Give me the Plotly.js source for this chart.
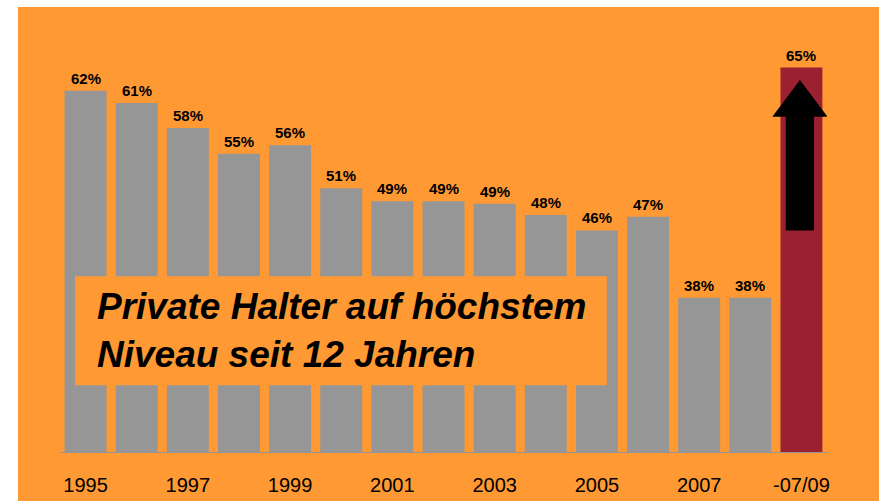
<!DOCTYPE html>
<html>
<head>
<meta charset="utf-8">
<script src="https://cdn.plot.ly/plotly-3.0.1.min.js"></script>
<style>
  html, body { margin: 0; padding: 0; background: #fff; }
  #chart { width: 879px; height: 501px; }
</style>
</head>
<body>
<div id="chart"></div>
<script>
    // Anteil privater Halter je Jahr (in %)
    const years = ['1995', '1996', '1997', '1998', '1999', '2000', '2001', '2002',
                   '2003', '2004', '2005', '2006', '2007', '2008', '-07/09'];
    const shares = [61.9, 60.5, 57.6, 54.6, 55.6, 50.6, 49.1, 49.1, 48.8, 47.5, 45.7, 47.3, 37.9, 37.9, 64.6];
    const tickYears = ['1995', '1997', '1999', '2001', '2003', '2005', '2007', '-07/09'];
    const message = 'Private Halter auf höchstem<br>Niveau seit 12 Jahren';

    const orange = '#FF9933';
    const grey = '#969696';
    const darkRed = '#9C2130';
    const lastIdx = years.length - 1;

    const barTrace = {
        x: years,
        y: shares,
        type: 'bar',
        marker: { color: years.map((_, i) => i === lastIdx ? darkRed : grey) },
        hoverinfo: 'skip'
    };

    // value labels above the bars (x as category index)
    const labels = years.map((yr, i) => ({
        x: i,
        y: shares[i],
        text: '<b>' + Math.round(shares[i]) + '%</b>',
        showarrow: false,
        yanchor: 'bottom',
        yshift: 2,
        font: { family: 'Liberation Sans, Arial, sans-serif', size: 15, color: '#000' }
    }));

    // up arrow on the last bar (in category-index units)
    const headHalf = 0.54, shaftHalf = 0.277;
    const tipY = 63.15, headY = 58.9, bottomY = 45.7;
    const cx = lastIdx - 0.03;
    const arrowPath = `M ${cx - shaftHalf},${bottomY} L ${cx + shaftHalf},${bottomY} ` +
        `L ${cx + shaftHalf},${headY} L ${cx + headHalf},${headY} L ${cx},${tipY} ` +
        `L ${cx - headHalf},${headY} L ${cx - shaftHalf},${headY} Z`;

    const layout = {
        width: 879,
        height: 501,
        margin: { l: 60, r: 52, t: 21, b: 49 },
        paper_bgcolor: '#ffffff',
        plot_bgcolor: 'rgba(0,0,0,0)',
        showlegend: false,
        bargap: 0.18,
        font: { family: 'Liberation Sans, Arial, sans-serif', color: '#000' },
        xaxis: {
            type: 'category',
            categoryorder: 'array',
            categoryarray: years,
            range: [-0.5, years.length - 0.5],
            autorange: false,
            tickmode: 'array',
            tickvals: tickYears,
            ticktext: tickYears,
            showline: true,
            linecolor: grey,
            linewidth: 1,
            ticks: '',
            showgrid: false,
            zeroline: false,
            ticklabelstandoff: 15,
            tickfont: { size: 20, color: '#000' }
        },
        yaxis: {
            range: [20, 70],
            autorange: false,
            visible: false,
            showgrid: false,
            zeroline: false
        },
        shapes: [
            {
                type: 'rect', layer: 'below',
                xref: 'paper', yref: 'paper',
                x0: -0.0548, x1: 1.07, y0: -0.12, y1: 1.0325,
                fillcolor: orange, line: { width: 0 }
            },
            {
                type: 'rect',
                xref: 'paper', yref: 'paper',
                x0: 0.0196, x1: 0.713, y0: 0.155, y1: 0.408,
                fillcolor: orange, line: { width: 0 }
            },
            {
                type: 'path',
                xref: 'x', yref: 'y',
                path: arrowPath,
                fillcolor: '#000', line: { width: 0 }
            }
        ],
        annotations: labels.concat([{
            xref: 'paper', yref: 'paper',
            x: 0.046, y: 0.2815,
            xanchor: 'left', yanchor: 'middle',
            align: 'left',
            showarrow: false,
            text: '<b><i>' + message + '</i></b>',
            font: { family: 'Liberation Sans, Arial, sans-serif', size: 37, color: '#000' }
        }])
    };

    Plotly.newPlot('chart', [barTrace], layout, { displayModeBar: false, staticPlot: true });
</script>
</body>
</html>
